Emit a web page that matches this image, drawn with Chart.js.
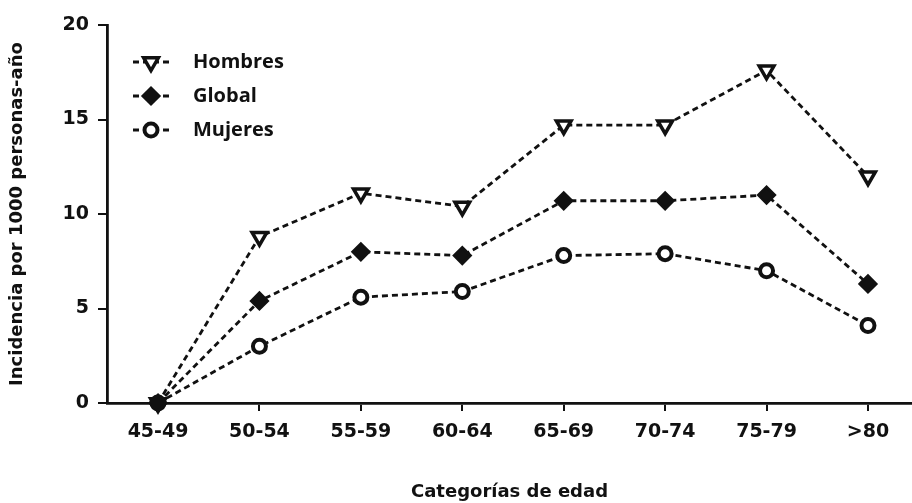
<!DOCTYPE html>
<html>
<head>
<meta charset="utf-8">
<script src="https://cdn.jsdelivr.net/npm/chart.js@4/dist/chart.umd.min.js"></script>
<style>
    body { margin: 0; background: #fff; overflow: hidden; }
    #wrap { width: 912px; height: 503px; }
</style>
</head>
<body>
<div id="wrap"><canvas id="myChart" width="912" height="503"></canvas></div>
<script>
// data
const categories = ['45-49', '50-54', '55-59', '60-64', '65-69', '70-74', '75-79', '>80'];
const hombres = [0, 8.8, 11.1, 10.4, 14.7, 14.7, 17.6, 12.0];
const global = [0, 5.4, 8.0, 7.8, 10.7, 10.7, 11.0, 6.3];
const mujeres = [0, 3.0, 5.6, 5.9, 7.8, 7.9, 7.0, 4.1];
const yTicks = [0, 5, 10, 15, 20];

const ink = '#111';

//turns a list of values into {x, y} points on the linear x scale
let toPoints = (arr) => arr.map((v, i) => ({ x: i, y: v }));

let makeDataset = (label, values, style, fill, rotation, radius, bw, order) => {
    return {
        label: label,
        data: toPoints(values),
        order: order,
        borderColor: ink,
        borderWidth: 2.8,
        borderDash: [6, 4],
        pointStyle: style,
        pointRotation: rotation,
        pointRadius: radius,
        pointBorderWidth: bw,
        pointBorderColor: ink,
        pointBackgroundColor: fill,
        fill: false,
        tension: 0,
        clip: false
    };
};

//legend drawn inside the plot, top left
const insideLegend = {
    id: 'insideLegend',
    afterDraw(chart) {
        const ctx = chart.ctx;
        const rows = [62, 96, 130];
        chart.data.datasets.forEach((ds, i) => {
            const y = rows[i];
            ctx.save();
            ctx.strokeStyle = ink;
            ctx.lineWidth = 2.8;
            ctx.setLineDash([6, 4]);
            ctx.beginPath();
            ctx.moveTo(133, y);
            ctx.lineTo(170, y);
            ctx.stroke();
            ctx.setLineDash([]);
            ctx.fillStyle = ds.pointBackgroundColor;
            ctx.strokeStyle = ink;
            ctx.lineWidth = ds.pointBorderWidth;
            Chart.helpers.drawPoint(ctx, {
                pointStyle: ds.pointStyle,
                rotation: ds.pointRotation,
                radius: ds.pointRadius,
                borderWidth: ds.pointBorderWidth
            }, 151, y);
            ctx.fillStyle = ink;
            ctx.font = 'bold 20px "Open Sans"';
            ctx.textBaseline = 'middle';
            ctx.fillText(ds.label, 193, y);
            ctx.restore();
        });
    }
};

const whiteBg = {
    id: 'whiteBg',
    beforeDraw(chart) {
        const ctx = chart.ctx;
        ctx.save();
        ctx.fillStyle = '#fff';
        ctx.fillRect(0, 0, chart.width, chart.height);
        ctx.restore();
    }
};

const tickFont = { family: 'DejaVu Sans', size: 19, weight: 'bold' };
const titleFont = { family: 'DejaVu Sans', size: 18, weight: 'bold' };

var config = {
    type: 'line',
    data: {
        datasets: [
            makeDataset('Hombres', hombres, 'triangle', '#fff', 180, 8.5, 3.5, 2),
            makeDataset('Global', global, 'rectRot', ink, 0, 8, 3, 0),
            makeDataset('Mujeres', mujeres, 'circle', '#fff', 0, 6.5, 4, 1)
        ]
    },
    options: {
        responsive: false,
        animation: false,
        layout: { autoPadding: false, padding: { top: 25, right: 0, left: 0, bottom: 0 } },
        plugins: {
            legend: { display: false },
            tooltip: { enabled: false }
        },
        scales: {
            x: {
                type: 'linear',
                min: -0.503,
                max: 7.434,
                afterBuildTicks: (s) => { s.ticks = categories.map((c, i) => ({ value: i })); },
                afterFit: (s) => { s.height = 100; s.paddingLeft = 0; s.paddingRight = 0; },
                ticks: {
                    color: ink,
                    font: tickFont,
                    padding: 10,
                    maxRotation: 0,
                    autoSkip: false,
                    callback: (v) => categories[v]
                },
                grid: {
                    drawOnChartArea: false,
                    color: ink,
                    lineWidth: 2,
                    tickLength: 8
                },
                border: { color: ink, width: 2.8 },
                title: {
                    display: true,
                    text: 'Categorías de edad',
                    color: ink,
                    font: titleFont,
                    padding: { top: 0, bottom: 0 }
                }
            },
            y: {
                min: 0,
                max: 20,
                afterBuildTicks: (s) => { s.ticks = yTicks.map(v => ({ value: v })); },
                afterFit: (s) => { s.width = 107; },
                ticks: {
                    color: ink,
                    font: tickFont,
                    padding: 9
                },
                grid: {
                    drawOnChartArea: false,
                    color: ink,
                    lineWidth: 2,
                    tickLength: 9
                },
                border: { color: ink, width: 2.8 },
                title: {
                    display: true,
                    text: 'Incidencia por 1000 personas-año',
                    color: ink,
                    font: titleFont,
                    padding: { top: 7, bottom: 0 }
                }
            }
        }
    },
    plugins: [whiteBg, insideLegend]
};

var myChart = new Chart(document.getElementById('myChart'), config);
</script>
</body>
</html>
